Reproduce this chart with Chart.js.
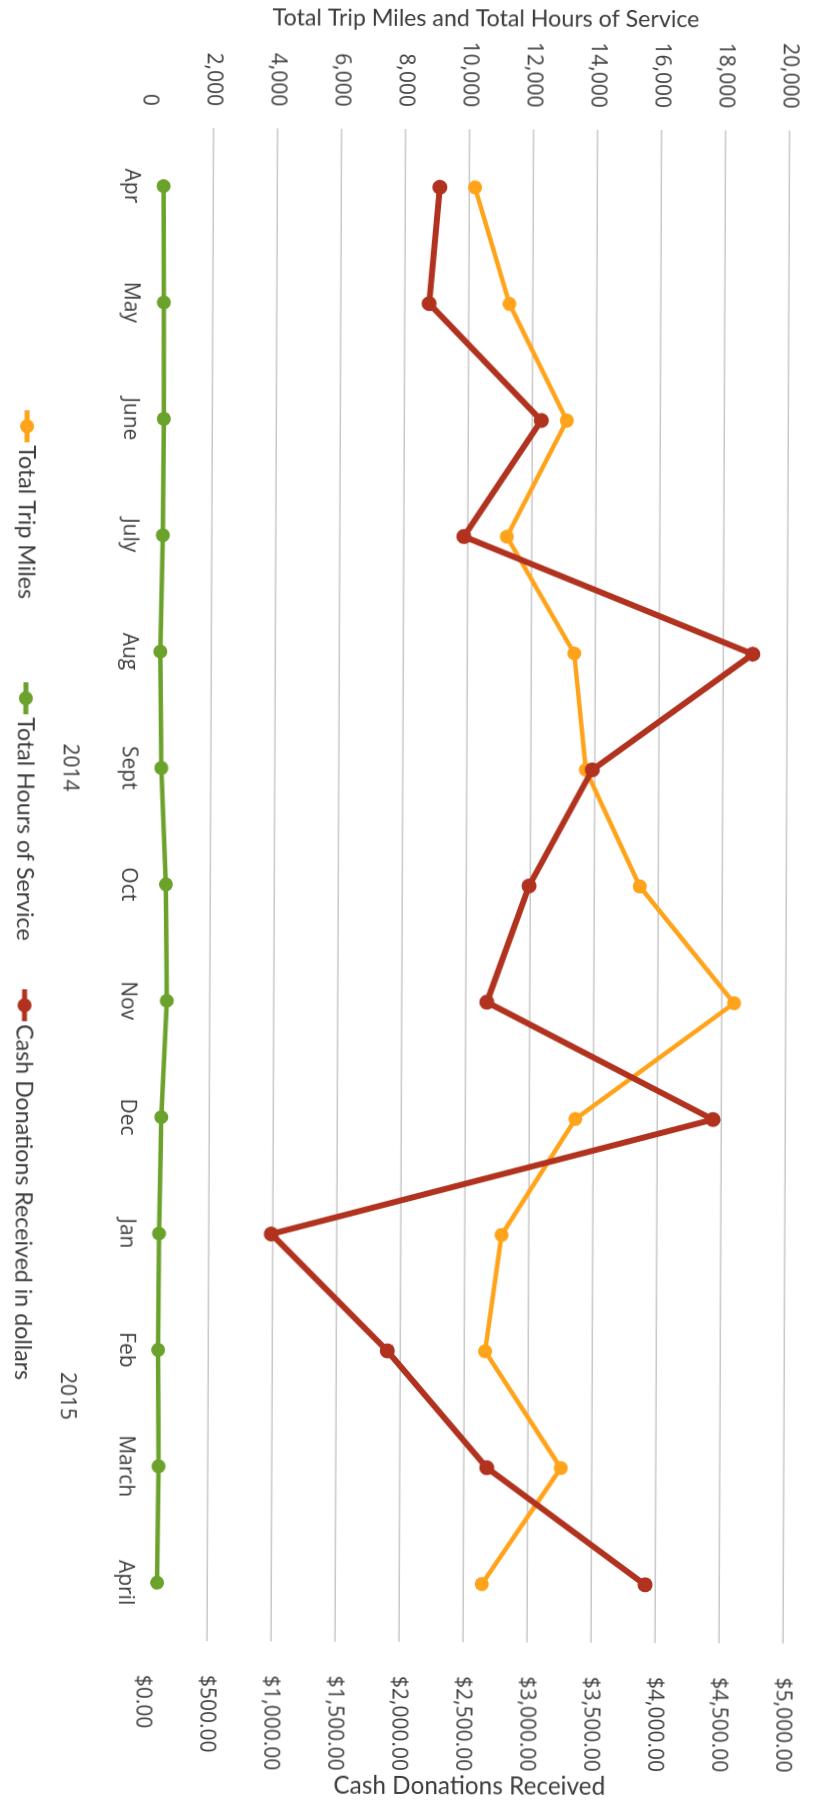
<!DOCTYPE html>
<html>
<head>
<meta charset="utf-8">
<script src="https://cdn.jsdelivr.net/npm/chart.js@4/dist/chart.umd.min.js"></script>
<style>
html,body{margin:0;padding:0;background:#ffffff;overflow:hidden;width:833px;height:1807px;}
#page{position:absolute;left:0;top:0;width:833px;height:1807px;transform-origin:50% 50%;transform:rotate(0.25deg);}
#wrap{position:absolute;left:0;top:0;width:1807px;height:833px;transform-origin:0 0;transform:translateX(833px) rotate(90deg);}
canvas{display:block;}
</style>
</head>
<body>
<div id="page"><div id="wrap"><canvas id="c" width="1807" height="833"></canvas></div></div>
<script>
// ---------- data ----------
const categories = ['Apr','May','June','July','Aug','Sept','Oct','Nov','Dec','Jan','Feb','March','April'];
const yearLabels = ['2014','2015'];
const yearCenters = [5.5, 10.9];           // position along the category axis (in category widths from plot start)
const tripMiles     = [10180, 11270, 13080, 11220, 13340, 13720, 15420, 18380, 13440, 11150, 10650, 13030, 10580];
const serviceHours  = [450, 475, 490, 475, 415, 460, 620, 660, 505, 450, 440, 470, 440];
const cashDonations = [2270, 2190, 3070, 2470, 4730, 3480, 2990, 2665, 4435, 990, 1900, 2680, 3920];
const seriesNames = ['Total Trip Miles', 'Total Hours of Service', 'Cash Donations Received in dollars'];
const leftTickValues  = [0, 2000, 4000, 6000, 8000, 10000, 12000, 14000, 16000, 18000, 20000];
const rightTickValues = [0, 500, 1000, 1500, 2000, 2500, 3000, 3500, 4000, 4500, 5000];
const leftAxisTitle  = 'Total Trip Miles and Total Hours of Service';
const rightAxisTitle = 'Cash Donations Received';

// ---------- style ----------
const COL_ORANGE = '#FFA31A', COL_GREEN = '#6BA22B', COL_RED = '#B0321F';
const TEXT = '#3c3c3c', GRID = '#c8c8c8';
const TITLE_FAMILY = "Lato, 'Open Sans', sans-serif";
const TICK_FAMILY  = "'Open Sans', 'Noto Sans', sans-serif";
const W = 1807, H = 833;
const PLOT_LEFT = 129, PLOT_RIGHT = 1642, PLOT_TOP = 31.4, PLOT_BOTTOM = 687;
const BOTTOM_PAD = 43, X_AXIS_H = 45;
const X2_H = H - BOTTOM_PAD - PLOT_BOTTOM - X_AXIS_H;

const mctx = document.createElement('canvas').getContext('2d');
function fitSize(text, family, width){ mctx.font = '100px ' + family; return 100 * width / mctx.measureText(text).width; }
const leftTitleSize  = fitSize(leftAxisTitle, TITLE_FAMILY, 427);
const rightTitleSize = fitSize(rightAxisTitle, TITLE_FAMILY, 272);
const legendSize = fitSize(seriesNames[2], TITLE_FAMILY, 356);
const tickSize   = fitSize('$5,000.00', TICK_FAMILY, 95);

const catLabelCenter = 697, yearLabelCenter = 756;
const catPad  = catLabelCenter - PLOT_BOTTOM - 0.6 * tickSize;
const yearPad = yearLabelCenter - (PLOT_BOTTOM + X_AXIS_H) - 0.6 * tickSize;

// legend drawn along the bottom edge (chart frame)
const seriesColors = [COL_ORANGE, COL_GREEN, COL_RED];
const LEG_STARTS = [412, 684, 991], LEG_LINE = 32, LEG_TEXT_OFF = 35, LEG_Y = 808;
const legendPlugin = {
  id: 'sideLegend',
  afterDraw(chart){
    const ctx = chart.ctx;
    ctx.save();
    ctx.font = legendSize.toFixed(2) + 'px ' + TITLE_FAMILY;
    ctx.textAlign = 'left'; ctx.textBaseline = 'middle';
    seriesNames.forEach((name, i) => {
      const c = seriesColors[i], x = LEG_STARTS[i];
      ctx.strokeStyle = c; ctx.lineWidth = 5; ctx.lineCap = 'butt';
      ctx.beginPath(); ctx.moveTo(x, LEG_Y); ctx.lineTo(x + LEG_LINE, LEG_Y); ctx.stroke();
      ctx.fillStyle = c; ctx.beginPath(); ctx.arc(x + LEG_LINE / 2, LEG_Y, 7, 0, Math.PI * 2); ctx.fill();
      ctx.fillStyle = TEXT; ctx.fillText(name, x + LEG_TEXT_OFF, LEG_Y + 1);
    });
    ctx.restore();
  }
};

const axisTitlesPlugin = {
  id: 'axisTitles',
  afterDraw(chart){
    const {ctx, chartArea} = chart;
    const mid = (chartArea.top + chartArea.bottom) / 2;
    ctx.save();
    ctx.fillStyle = TEXT; ctx.textAlign = 'center'; ctx.textBaseline = 'middle';
    ctx.translate(18.4, mid - 16);
    ctx.rotate(-Math.PI / 2);
    ctx.font = leftTitleSize.toFixed(2) + 'px ' + TITLE_FAMILY;
    ctx.fillText(leftAxisTitle, 0, 0);
    ctx.restore();
    ctx.save();
    ctx.fillStyle = TEXT; ctx.textAlign = 'center'; ctx.textBaseline = 'middle';
    ctx.translate(1786, mid - 7);
    ctx.rotate(-Math.PI / 2);
    ctx.font = rightTitleSize.toFixed(2) + 'px ' + TITLE_FAMILY;
    ctx.fillText(rightAxisTitle, 0, 0);
    ctx.restore();
  }
};

const tickFont = {family: TICK_FAMILY, size: tickSize};

new Chart(document.getElementById('c'), {
  type: 'line',
  data: {
    labels: categories,
    datasets: [
      {label: seriesNames[0], data: tripMiles, yAxisID: 'y', xAxisID: 'x', borderColor: COL_ORANGE, backgroundColor: COL_ORANGE,
       borderWidth: 4.5, pointRadius: 7, pointBorderWidth: 0, pointBackgroundColor: COL_ORANGE, order: 1},
      {label: seriesNames[1], data: serviceHours, yAxisID: 'y', xAxisID: 'x', borderColor: COL_GREEN, backgroundColor: COL_GREEN,
       borderWidth: 4.5, pointRadius: 7, pointBorderWidth: 0, pointBackgroundColor: COL_GREEN, order: 2},
      {label: seriesNames[2], data: cashDonations, yAxisID: 'y1', xAxisID: 'x', borderColor: COL_RED, backgroundColor: COL_RED,
       borderWidth: 6, pointRadius: 7.5, pointBorderWidth: 0, pointBackgroundColor: COL_RED, order: 0}
    ]
  },
  options: {
    responsive: false,
    devicePixelRatio: 1,
    animation: false,
    events: [],
    layout: {padding: {top: PLOT_TOP, left: 0, right: 0, bottom: BOTTOM_PAD}},
    elements: {line: {tension: 0, fill: false}},
    plugins: {
      tooltip: {enabled: false},
      legend: {display: false}
    },
    scales: {
      x: {
        type: 'category', position: 'bottom', offset: true, weight: 0,
        grid: {display: false}, border: {display: false},
        ticks: {color: TEXT, font: tickFont, padding: catPad, maxRotation: 0, minRotation: 0, autoSkip: false},
        afterFit(s){ s.height = X_AXIS_H; }
      },
      x2: {
        type: 'linear', position: 'bottom', min: 0, max: categories.length, weight: 1,
        grid: {display: false}, border: {display: false},
        afterBuildTicks(s){ s.ticks = yearCenters.map(v => ({value: v})); },
        ticks: {color: TEXT, font: tickFont, padding: yearPad, maxRotation: 0, minRotation: 0, autoSkip: false,
                callback: (v, i) => yearLabels[i]},
        afterFit(s){ s.height = X2_H; }
      },
      y: {
        type: 'linear', position: 'left', min: 0, max: 20000,
        afterBuildTicks(s){ s.ticks = leftTickValues.map(v => ({value: v})); },
        grid: {drawTicks: false, lineWidth: 1.5, color: c => c.tick && c.tick.value === 0 ? 'rgba(0,0,0,0)' : GRID},
        border: {display: false},
        ticks: {color: TEXT, font: tickFont, padding: 22, callback: v => v.toLocaleString('en-US')},
        afterFit(s){ s.width = PLOT_LEFT; }
      },
      y1: {
        type: 'linear', position: 'right', min: 0, max: 5000,
        afterBuildTicks(s){ s.ticks = rightTickValues.map(v => ({value: v})); },
        grid: {display: false, drawTicks: false}, border: {display: false},
        ticks: {color: TEXT, font: tickFont, padding: 34,
                callback: v => '$' + v.toLocaleString('en-US', {minimumFractionDigits: 2, maximumFractionDigits: 2})},
        afterFit(s){ s.width = W - PLOT_RIGHT; }
      }
    }
  },
  plugins: [legendPlugin, axisTitlesPlugin]
});
</script>
</body>
</html>
